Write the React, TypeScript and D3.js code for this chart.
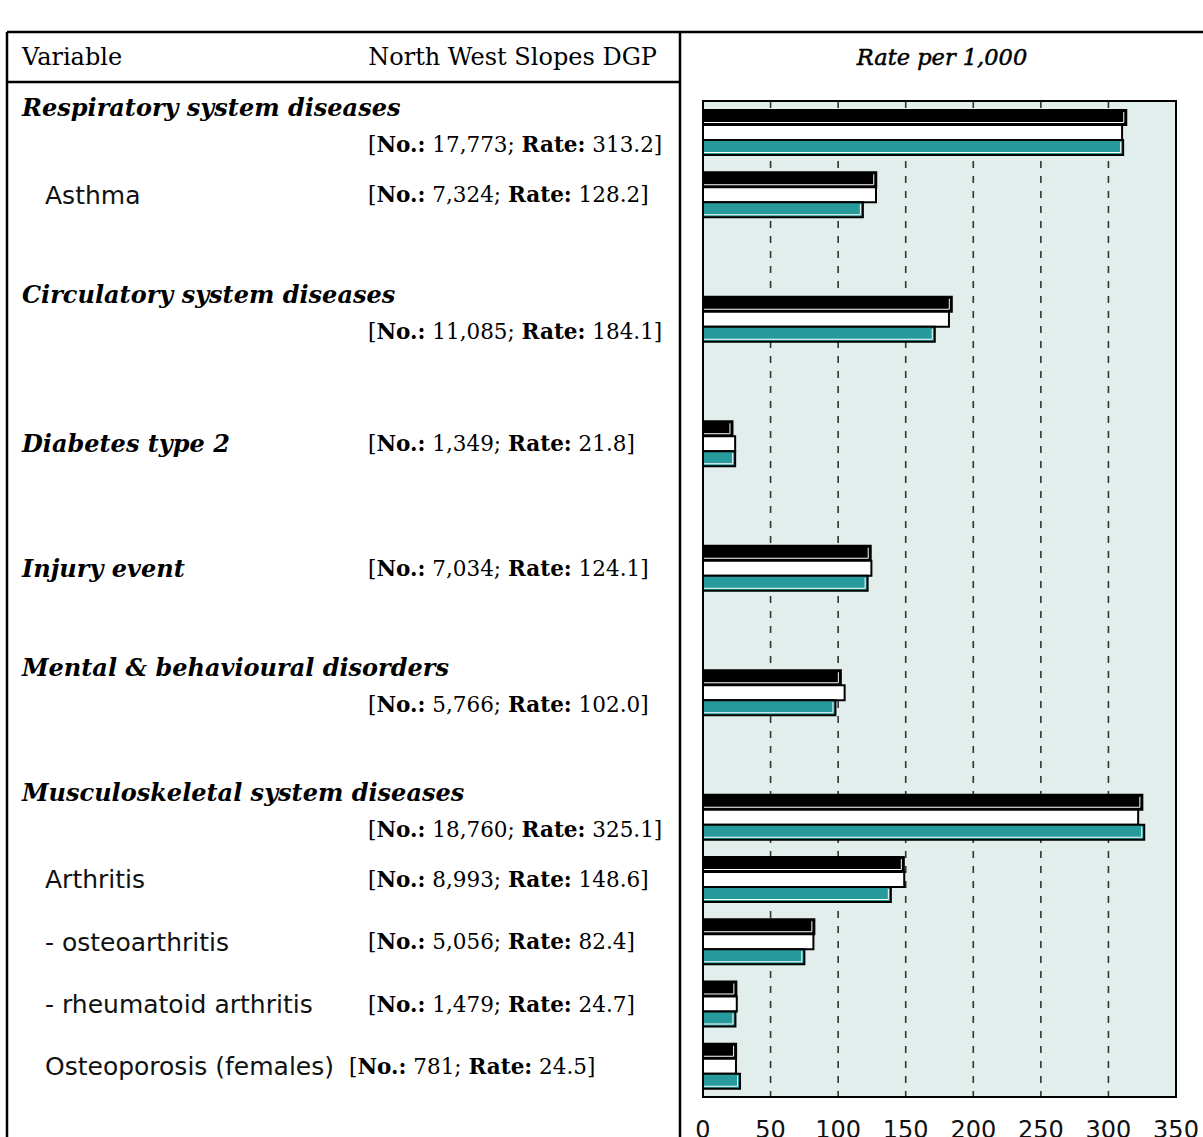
import React from 'react';
import * as d3 from 'd3';

// rows of the table, top to bottom
const categories = [
  'Respiratory system diseases',
  'Asthma',
  'Circulatory system diseases',
  'Diabetes type 2',
  'Injury event',
  'Mental & behavioural disorders',
  'Musculoskeletal system diseases',
  'Arthritis',
  '- osteoarthritis',
  '- rheumatoid arthritis',
  'Osteoporosis (females)',
];
const isGroup = [true, false, true, true, true, true, true, false, false, false, false];
const splitLine = [true, false, true, false, false, true, true, false, false, false, false];
const counts = ['17,773', '7,324', '11,085', '1,349', '7,034', '5,766', '18,760', '8,993', '5,056', '1,479', '781'];

// band domain, with empty rows between the groups
const bandRows = [
  'Respiratory system diseases', 'Asthma', '_g1',
  'Circulatory system diseases', '_g2',
  'Diabetes type 2', '_g3',
  'Injury event', '_g4',
  'Mental & behavioural disorders', '_g5',
  'Musculoskeletal system diseases', 'Arthritis', '- osteoarthritis',
  '- rheumatoid arthritis', 'Osteoporosis (females)',
];

// rate per 1,000, three bars per row
const dgpRates = [313.2, 128.2, 184.1, 21.8, 124.1, 102.0, 325.1, 148.6, 82.4, 24.7, 24.5];
const whiteRates = [310.1, 128.0, 182.0, 23.8, 124.6, 104.8, 322.0, 148.9, 81.7, 25.0, 24.4];
const tealRates = [310.9, 118.3, 171.5, 23.8, 121.8, 98.0, 326.5, 139.0, 75.0, 24.0, 27.4];

const seriesKeys = ['dgp', 'white', 'teal'];
const seriesColors = ['#000000', '#ffffff', '#279b9b'];
const xTicks = [0, 50, 100, 150, 200, 250, 300, 350];

const SERIF = '"DejaVu Serif", serif';
const SANS = '"DejaVu Sans", sans-serif';

export default function App() {
  const W = 1203;
  const H = 1137;
  const plot = { left: 703, right: 1176, top: 101, bottom: 1097 };

  const x = d3.scaleLinear().domain([0, 350]).range([plot.left, plot.right]);
  const y0 = d3.scaleBand<string>().domain(bandRows).range([plot.top, plot.bottom]);
  const y1 = d3.scaleBand<string>().domain(seriesKeys).range([9, 54]);

  const rates = [dgpRates, whiteRates, tealRates];

  return (
    <svg width={W} height={H} style={{ position: 'absolute', left: 0, top: 0 }}>
      {/* table frame */}
      <g stroke="#000" strokeWidth={2.5} fill="none">
        <line x1={7} y1={32} x2={W} y2={32} />
        <line x1={7} y1={32} x2={7} y2={H} />
        <line x1={680} y1={32} x2={680} y2={H} />
        <line x1={7} y1={82} x2={680} y2={82} />
      </g>

      {/* header */}
      <text x={22} y={65} fontFamily={SERIF} fontSize={24}>Variable</text>
      <text x={657} y={65} fontFamily={SERIF} fontSize={24} textAnchor="end">North West Slopes DGP</text>
      <text
        x={942}
        y={65}
        fontFamily={SERIF}
        fontSize={22.5}
        fontStyle="italic"
        stroke="#000"
        strokeWidth={0.5}
        textAnchor="middle"
      >
        Rate per 1,000
      </text>

      {/* row labels */}
      {categories.map((c, i) => {
        const cy = (y0(c) ?? 0) + 9 + y1.step() * 1.5;
        const group = isGroup[i];
        const labelY = splitLine[i] ? cy - 25 : cy;
        const bracketY = splitLine[i] ? cy + 12 : cy;
        const bx = i === categories.length - 1 ? 349 : 368;
        return (
          <g key={c}>
            <text
              x={group ? 22 : 45}
              y={labelY}
              dy="0.35em"
              fontFamily={group ? SERIF : SANS}
              fontStyle={group ? 'italic' : 'normal'}
              fontWeight={group ? 'bold' : 'normal'}
              fontSize={group ? 24 : 25}
              fill={group ? '#000' : '#111'}
            >
              {c}
            </text>
            <text x={bx} y={bracketY} dy="0.35em" fontFamily={SERIF} fontSize={21.5}>
              [<tspan fontWeight="bold">No.:</tspan> {counts[i]}; <tspan fontWeight="bold">Rate:</tspan>{' '}
              {dgpRates[i].toFixed(1)}]
            </text>
          </g>
        );
      })}

      {/* plot background */}
      <rect
        x={plot.left}
        y={plot.top}
        width={plot.right - plot.left}
        height={plot.bottom - plot.top}
        fill="#e2eeeb"
      />

      {/* dashed grid */}
      {xTicks.slice(1, -1).map((t) => (
        <line
          key={t}
          x1={x(t)}
          x2={x(t)}
          y1={plot.top}
          y2={plot.bottom}
          stroke="#333"
          strokeWidth={1.6}
          strokeDasharray="7,8"
        />
      ))}

      {/* bars */}
      {categories.map((c, i) => (
        <g key={c} transform={`translate(0,${y0(c)})`}>
          {seriesKeys.map((k, s) => {
            const by = y1(k) ?? 0;
            const bh = y1.bandwidth();
            const bw = x(rates[s][i]) - x(0);
            return (
              <g key={k}>
                <rect x={x(0)} y={by} width={bw} height={bh} fill={seriesColors[s]} stroke="#000" strokeWidth={2} />
                <path
                  d={`M${x(0)},${by + bh - 2.5}H${x(0) + bw - 2.5}V${by + 2}`}
                  fill="none"
                  stroke="#fff"
                  strokeWidth={1}
                />
              </g>
            );
          })}
        </g>
      ))}

      {/* plot border */}
      <rect
        x={plot.left}
        y={plot.top}
        width={plot.right - plot.left}
        height={plot.bottom - plot.top}
        fill="none"
        stroke="#000"
        strokeWidth={2}
      />

      {/* x tick labels */}
      {xTicks.map((t) => (
        <text key={t} x={x(t)} y={1138} fontFamily={SANS} fontSize={24} textAnchor="middle" fill="#111">
          {t}
        </text>
      ))}
    </svg>
  );
}
